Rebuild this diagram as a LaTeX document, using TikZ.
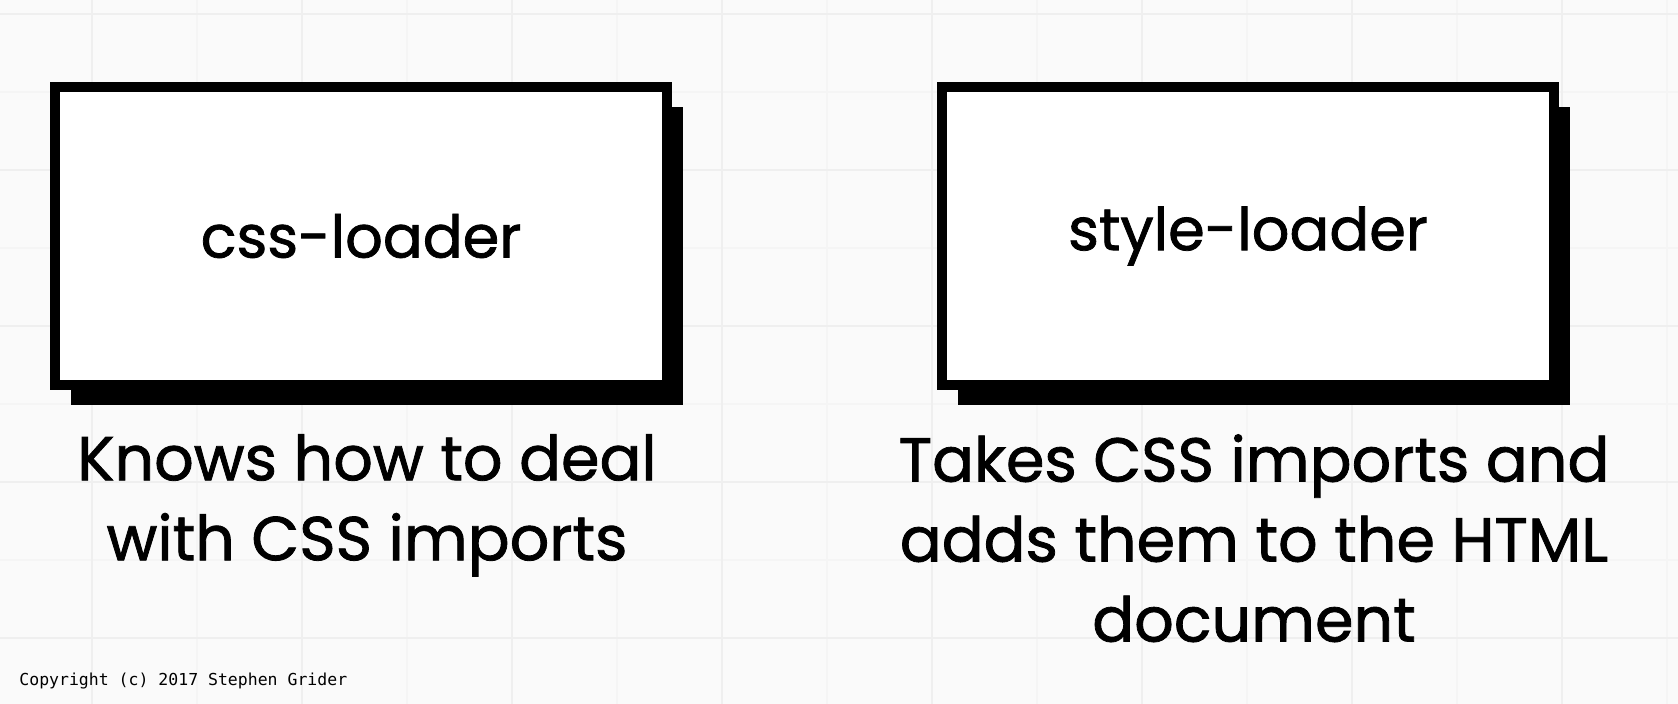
\documentclass[tikz,border=0pt]{standalone}
\usepackage{fontspec}
\setmainfont{Poppins}[FakeBold=1.3]
\newfontfamily\copyfont{DejaVu Sans Mono}
\usetikzlibrary{positioning,shadows}
\definecolor{paper}{HTML}{FAFAFA}
\definecolor{gridmajor}{HTML}{EFEFEF}
\definecolor{gridminor}{HTML}{F5F5F5}

\begin{document}
\begin{tikzpicture}[x=0.5pt,y=-0.5pt]
\tikzset{loader/.style={draw, line width=5pt, fill=white, minimum width=306pt, minimum height=149pt,
    font=\fontsize{29.5}{34}\selectfont,
    drop shadow={shadow xshift=8pt, shadow yshift=-10pt, fill=black, opacity=1}},
  desc/.style={align=center, inner sep=0pt, font=\fontsize{31}{40}\selectfont}};
   \fill[paper] (0,0) rectangle (1678,704);
   \useasboundingbox (0,0) rectangle (1678,704);
   % grid
   \foreach \x in {197,407,...,1667} \draw[gridminor, line width=1pt] (\x,0) -- (\x,704);
   \foreach \y in {92,248,...,560} \draw[gridminor, line width=1pt] (0,\y) -- (1678,\y);
   \foreach \x in {92,302,...,1562} \draw[gridmajor, line width=1pt] (\x,0) -- (\x,704);
   \foreach \y in {14,170,...,638} \draw[gridmajor, line width=1pt] (0,\y) -- (1678,\y);

   \node[loader] at (361,236) (css) {css-loader};
   \node[loader] [right = 132.5pt of css] (style) {style-loader};
   \node[desc] [below = 22pt of css, xshift=3pt] (cssdesc) {Knows how to deal\\with CSS imports};
   \node[desc] [below = 22pt of style, xshift=3pt] (styledesc) {Takes CSS imports and\\adds them to the HTML\\document};
   %\node[desc] [below = 23pt of cssdesc] (note) {};
   \node[anchor=west, inner sep=0pt, font=\copyfont\fontsize{8.25}{10}\selectfont] at (19,681) (copy) {Copyright (c) 2017 Stephen Grider};
\end{tikzpicture}
\end{document}
